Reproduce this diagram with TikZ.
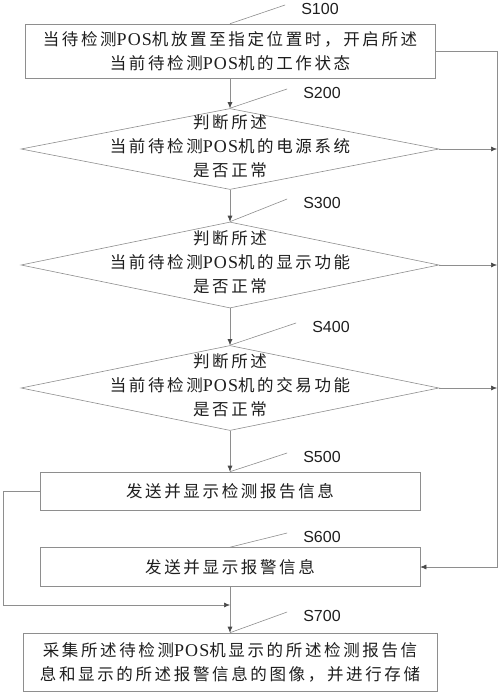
\documentclass[tikz,border=0pt]{standalone}
\usepackage{fontspec}
\setsansfont{Liberation Sans}
\newfontfamily\cjkfont[LetterSpace=16]{Noto Sans CJK SC}
\newfontfamily\posfont[LetterSpace=6]{Liberation Serif}
\usetikzlibrary{shapes,positioning,calc,arrows.meta}
\newcommand{\posw}{{\posfont\fontsize{18}{24}\selectfont POS}}
\newcommand{\dtext}[1]{\makebox[0pt]{\smash{\raisebox{-3.5pt}{\begin{tabular}{@{}c@{}}#1\end{tabular}}}}}
\definecolor{linegray}{HTML}{8E8E8E}
\definecolor{tipgray}{HTML}{4A4A4A}
\definecolor{textgray}{HTML}{1E1E1E}

\begin{document}
\begin{tikzpicture}
[x=1pt,y=-1pt,
edge/.style={linegray,line width=.6pt,>={Latex[length=6pt,width=5pt,color=tipgray]}},
leader/.style={linegray,line width=.6pt},
block/.style={draw=linegray,line width=.6pt,inner sep=0pt,align=center,text=textgray,
  font=\cjkfont\fontsize{16.5}{24}\selectfont},
decision/.style={block,shape=diamond,minimum width=418pt},
steplabel/.style={font=\sffamily\fontsize{16}{16}\selectfont,text=textgray,inner sep=0pt}]
\useasboundingbox (0,0) rectangle (500,693);
%%
\node[block,minimum width=410pt,minimum height=54pt] (s100) at (230,51)
{当待检测\posw 机放置至指定位置时，开启所述\\当前待检测\posw 机的工作状态};
\node[decision,minimum height=81pt] (s200) at (230,149)
{\dtext{判断所述\\当前待检测\posw 机的电源系统\\是否正常}};
\node[decision,minimum height=86pt] (s300) at (230,265)
{\dtext{判断所述\\当前待检测\posw 机的显示功能\\是否正常}};
\node[decision,minimum height=85pt] (s400) at (230,388)
{\dtext{判断所述\\当前待检测\posw 机的交易功能\\是否正常}};
\node[block,minimum width=380pt,minimum height=38pt] (s500) at (230,491) {发送并显示检测报告信息};
\node[block,minimum width=380pt,minimum height=39pt] (s600) at (230,567) {发送并显示报警信息};
\node[block,minimum width=414pt,minimum height=58pt] (s700) at (230,662)
{采集所述待检测\posw 机显示的所述检测报告信\\息和显示的所述报警信息的图像，并进行存储};
%% step labels
\node[steplabel] (l100) at (320,9) {S100};
\node[steplabel] (l200) at (322,93) {S200};
\node[steplabel] (l300) at (322,203) {S300};
\node[steplabel] (l400) at (331,327) {S400};
\node[steplabel] (l500) at (322,457) {S500};
\node[steplabel] (l600) at (322,537) {S600};
\node[steplabel] (l700) at (322,616) {S700};
\foreach \n in {100,200,300,400,500,600,700}
  \draw[leader] (s\n.north) -- ($(l\n.west)+(-16,-4)$);
%%
\coordinate (rt) at (497,51);
\coordinate (lt) at (3,491);
\coordinate (j700) at (230,605);
\draw[edge,->] (s100) -- (s200);
\draw[edge,->] (s200) -- (s300);
\draw[edge,->] (s300) -- (s400);
\draw[edge,->] (s400) -- (s500);
\draw[edge,->] (s600) -- (s700);
\draw[edge,->] (s100.east) -- (rt) |- (s600.east);
\foreach \n in {200,300,400}
  \draw[edge,->] (s\n.east) -- (s\n.east -| rt);
\draw[edge,->] (s500.west) -- (lt) |- (j700);
\end{tikzpicture}
\end{document}
